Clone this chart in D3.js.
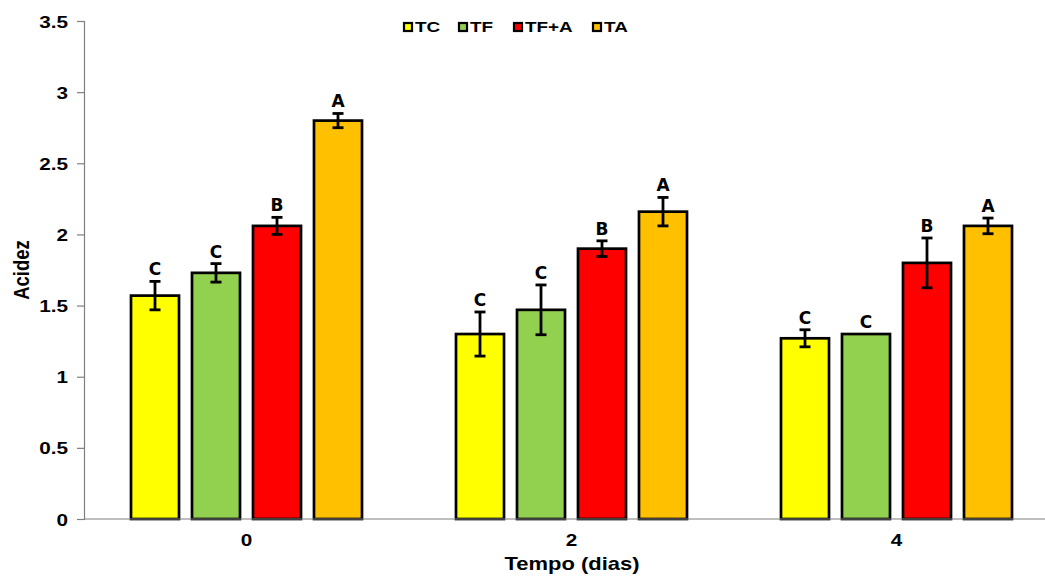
<!DOCTYPE html>
<html>
<head>
<meta charset="utf-8">
<script src="https://cdn.jsdelivr.net/npm/d3@7"></script>
<style>
body { margin: 0; background: #fff; }
svg { display: block; }
.tick-lab { font-family: "Liberation Sans", Arial, sans-serif; font-weight: bold; font-size: 17px; }
.letter { font-family: "DejaVu Sans", Verdana, sans-serif; font-weight: bold; font-size: 17px; }
</style>
</head>
<body>
<div id="chart"></div>
<script>
var days = ['0', '2', '4'];
var series = ['TC', 'TF', 'TF+A', 'TA'];
var colors = ['#FFFF00', '#92D050', '#FF0000', '#FFC000'];

// mean per day, one array per series
var tcVals = [1.57, 1.30, 1.27];
var tfVals = [1.73, 1.47, 1.30];
var tfaVals = [2.06, 1.90, 1.80];
var taVals = [2.80, 2.16, 2.06];

var tcErr = [0.10, 0.155, 0.06];
var tfErr = [0.065, 0.175, 0];
var tfaErr = [0.06, 0.055, 0.175];
var taErr = [0.05, 0.10, 0.055];

var tcLetters = ['C', 'C', 'C'];
var tfLetters = ['C', 'C', 'C'];
var tfaLetters = ['B', 'B', 'B'];
var taLetters = ['A', 'A', 'A'];

var yTicks = [0, 0.5, 1, 1.5, 2, 2.5, 3, 3.5];

var vals = [tcVals, tfVals, tfaVals, taVals];
var errs = [tcErr, tfErr, tfaErr, taErr];
var letters = [tcLetters, tfLetters, tfaLetters, taLetters];

var width = 1045, height = 576;
var SX = 1.22; // the original picture is stretched sideways

var svg = d3.select('#chart')
    .append('svg')
    .attr('width', width)
    .attr('height', height);

// put a text at (x,y) and widen it
var widen = function(sel, extra) {
    sel.each(function() {
        var t = d3.select(this);
        var x = +t.attr('x') || 0, y = +t.attr('y') || 0;
        t.attr('x', 0).attr('y', 0)
            .attr('transform', 'translate(' + x + ',' + y + ') scale(' + SX + ',1)' + (extra || ''));
    });
}

var x0 = d3.scaleBand()
    .domain(days)
    .range([84, 1059]);

var x1 = d3.scaleBand()
    .domain(series)
    .range([x0.bandwidth() / 2 - 115.5, x0.bandwidth() / 2 + 115.5])
    .paddingInner(0.213);

var y = d3.scaleLinear()
    .domain([0, 3.5])
    .range([519, 21]);

// y axis
var yAxis = svg.append('g')
    .attr('transform', 'translate(84,0)')
    .call(d3.axisLeft(y).tickValues(yTicks).tickSize(7).tickFormat(d3.format('')));
yAxis.select('.domain').attr('stroke', '#7f7f7f').attr('stroke-width', 1.2);
yAxis.selectAll('.tick line').attr('stroke', '#7f7f7f').attr('stroke-width', 1.2);
yAxis.selectAll('.tick text')
    .attr('class', 'tick-lab')
    .attr('fill', '#000')
    .attr('x', -16)
    .attr('y', 6)
    .attr('dy', null)
    .call(widen);

var data = [];
days.forEach(function(d, i) {
    series.forEach(function(s, j) {
        data.push({day: d, s: s, v: vals[j][i], e: errs[j][i], l: letters[j][i], c: colors[j]});
    });
});

var cx = d => x0(d.day) + x1(d.s) + x1.bandwidth() / 2;

var bars = svg.append('g');
bars.selectAll('rect')
    .data(data)
    .enter()
    .append('rect')
    .attr('x', d => x0(d.day) + x1(d.s))
    .attr('y', d => y(d.v))
    .attr('width', x1.bandwidth())
    .attr('height', d => y(0) - y(d.v))
    .attr('fill', d => d.c)
    .attr('stroke', '#000')
    .attr('stroke-width', 2.7);

// x axis line (drawn after bars so it sits on top)
svg.append('line')
    .attr('x1', 84).attr('x2', width)
    .attr('y1', y(0)).attr('y2', y(0))
    .attr('stroke', '#7f7f7f')
    .attr('stroke-width', 1.2);

svg.append('g').selectAll('text')
    .data(days)
    .enter()
    .append('text')
    .attr('class', 'tick-lab')
    .attr('x', d => x0(d) + x0.bandwidth() / 2)
    .attr('y', 546)
    .attr('text-anchor', 'middle')
    .text(d => d)
    .call(widen);

// error bars
var eb = svg.append('g')
    .attr('stroke', '#000')
    .attr('stroke-width', 2.8);
var withErr = data.filter(d => d.e > 0);
eb.selectAll('.ev')
    .data(withErr)
    .enter()
    .append('line')
    .attr('x1', cx)
    .attr('x2', cx)
    .attr('y1', d => y(d.v + d.e))
    .attr('y2', d => y(d.v - d.e));
[1, -1].forEach(function(sign) {
    eb.selectAll('.cap' + sign)
        .data(withErr)
        .enter()
        .append('line')
        .attr('x1', d => cx(d) - 5.5)
        .attr('x2', d => cx(d) + 5.5)
        .attr('y1', d => y(d.v + sign * d.e))
        .attr('y2', d => y(d.v + sign * d.e));
});

// letters
svg.append('g').selectAll('text')
    .data(data)
    .enter()
    .append('text')
    .attr('class', 'letter')
    .attr('x', cx)
    .attr('y', d => y(d.v + d.e) - 6)
    .attr('text-anchor', 'middle')
    .text(d => d.l);

// axis titles
svg.append('text')
    .attr('class', 'tick-lab')
    .style('font-size', '18px')
    .attr('x', 572)
    .attr('y', 570)
    .attr('text-anchor', 'middle')
    .text('Tempo (dias)')
    .call(widen);

svg.append('text')
    .attr('class', 'tick-lab')
    .style('font-size', '18.5px')
    .attr('x', 29)
    .attr('y', 270)
    .attr('text-anchor', 'middle')
    .text('Acidez')
    .call(widen, ' rotate(-90)');

// legend
var legX = [403, 458, 513, 592];
var leg = svg.append('g').selectAll('g')
    .data(series)
    .enter()
    .append('g')
    .attr('transform', (d, i) => 'translate(' + legX[i] + ',22)');
leg.append('rect')
    .attr('x', 1).attr('y', 1)
    .attr('width', 8).attr('height', 8)
    .attr('fill', (d, i) => colors[i])
    .attr('stroke', '#000')
    .attr('stroke-width', 2.2);
leg.append('text')
    .attr('class', 'tick-lab')
    .style('font-size', '15.5px')
    .attr('x', 12)
    .attr('y', 10)
    .text(d => d)
    .call(widen);
</script>
</body>
</html>
